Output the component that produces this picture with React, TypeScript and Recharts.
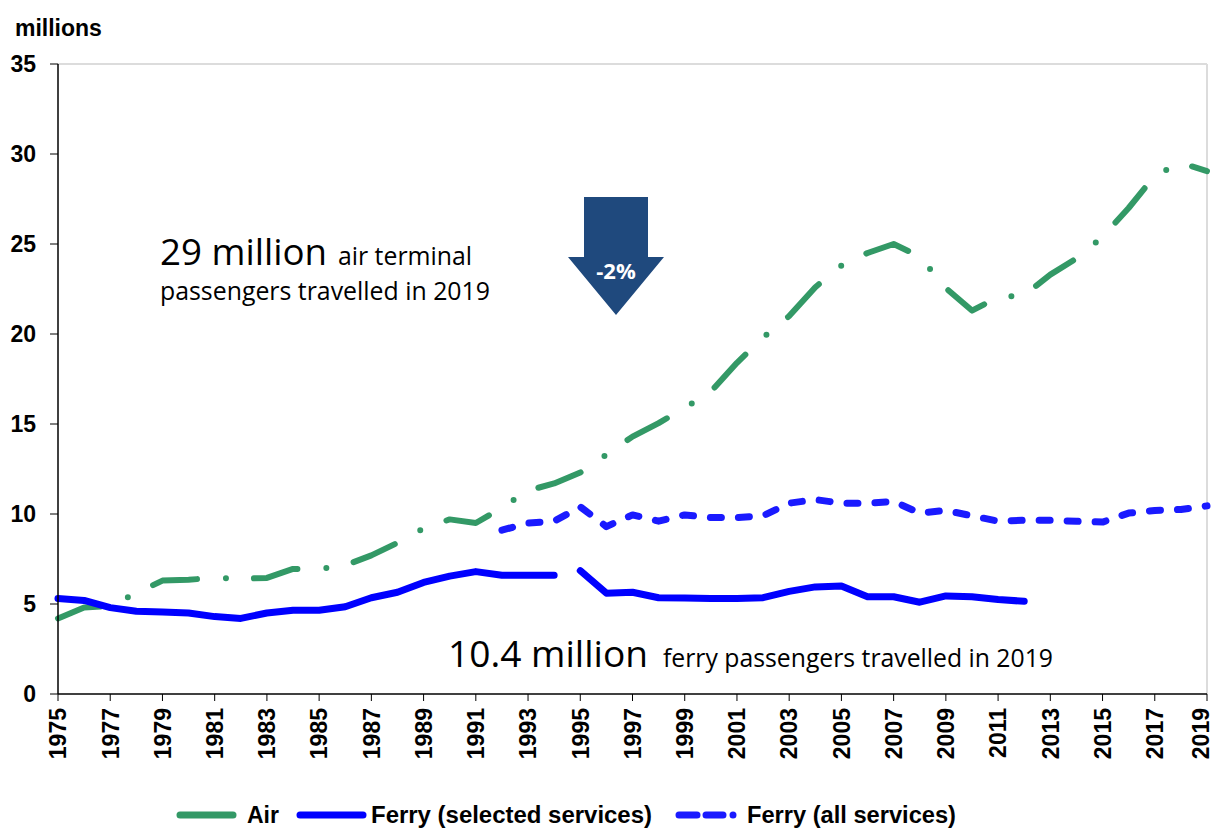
import React from 'react';
import { LineChart, Line, XAxis, YAxis, ReferenceLine } from 'recharts';

// passengers, millions
const years = Array.from({ length: 45 }, (_, i) => 1975 + i);

const air = [
  4.2, 4.8, 4.9, 5.6, 6.3, 6.35, 6.45, 6.4, 6.45, 6.95,
  6.95, 7.15, 7.7, 8.4, 9.2, 9.7, 9.5, 10.35, 11.3, 11.7,
  12.3, 13.3, 14.3, 15.05, 15.9, 16.8, 18.4, 19.8, 21.0, 22.6,
  23.8, 24.5, 25.0, 24.3, 22.55, 21.3, 22.05, 22.15, 23.3, 24.2,
  25.4, 27.0, 28.8, 29.5, 29.05,
];

// selected services, 1975-1994 and 1995-2012 (break in series)
const ferrySelectedEarly = [
  5.3, 5.2, 4.8, 4.6, 4.55, 4.5, 4.3, 4.2, 4.5, 4.65,
  4.65, 4.85, 5.35, 5.65, 6.2, 6.55, 6.8, 6.6, 6.6, 6.6,
];
const ferrySelectedLate = [
  6.85, 5.6, 5.65, 5.35, 5.33, 5.3, 5.3, 5.35, 5.7, 5.95,
  6.0, 5.4, 5.4, 5.1, 5.45, 5.4, 5.25, 5.15,
];

// all services, 1992-2019
const ferryAll = [
  9.1, 9.5, 9.6, 10.4, 9.3, 9.95, 9.6, 9.95, 9.8, 9.8,
  9.9, 10.6, 10.8, 10.6, 10.6, 10.7, 10.05, 10.2, 9.9, 9.6,
  9.65, 9.65, 9.6, 9.55, 10.05, 10.2, 10.25, 10.45,
];

const yTicks = [0, 5, 10, 15, 20, 25, 30, 35];
const xTicks = years.filter((y) => y % 2 === 1);

const pick = (arr: number[], start: number, year: number) => {
  const i = year - start;
  return i >= 0 && i < arr.length ? arr[i] : null;
};

const data = years.map((year) => ({
  year,
  air: pick(air, 1975, year),
  selEarly: pick(ferrySelectedEarly, 1975, year),
  selLate: pick(ferrySelectedLate, 1995, year),
  all: pick(ferryAll, 1992, year),
}));

const GREEN = '#339966';
const BLUE = '#0000FF';
const BLUE_DASH = '#1a1aff';
const ARIAL = '"Liberation Sans", Arial, sans-serif';
const CALIBRI = '"Open Sans", "Noto Sans", sans-serif';

const YearTick = (props: any) => {
  const { x, y, payload } = props;
  // last label sits on the right edge, nudge it in a little
  const nx = payload.value === 2019 ? x - 6 : x;
  return (
    <text
      transform={`translate(${nx},${y + 7}) rotate(-90)`}
      textAnchor="end"
      dy="0.36em"
      fontFamily={ARIAL}
      fontWeight="bold"
      fontSize={23}
      fill="#000"
    >
      {payload.value}
    </text>
  );
};

export default function App() {
  return (
    <div style={{ position: 'absolute', left: 0, top: 0, width: 1215, height: 828, background: '#fff' }}>
      <LineChart
        width={1215}
        height={828}
        data={data}
        margin={{ top: 64, right: 8, left: 8, bottom: 54 }}
      >
        <ReferenceLine y={35} stroke="#dcdcdc" strokeWidth={2} />
        <ReferenceLine x={2019} stroke="#dcdcdc" strokeWidth={2} />
        <XAxis
          type="number"
          dataKey="year"
          domain={[1975, 2019]}
          ticks={xTicks}
          interval={0}
          height={80}
          tickSize={7}
          tickMargin={0}
          axisLine={{ stroke: '#000', strokeWidth: 1.5 }}
          tickLine={{ stroke: '#000' }}
          tick={<YearTick />}
        />
        <YAxis
          domain={[0, 35]}
          ticks={yTicks}
          width={50}
          tickSize={8}
          tickMargin={14}
          axisLine={{ stroke: '#000', strokeWidth: 1.5 }}
          tickLine={{ stroke: '#000' }}
          tick={{ fontFamily: ARIAL, fontWeight: 'bold', fontSize: 23, fill: '#000' }}
        />
        <Line
          dataKey="air"
          stroke={GREEN}
          strokeWidth={6}
          strokeDasharray="45 29 0 28"
          strokeLinecap="round"
          strokeLinejoin="round"
          dot={false}
          activeDot={false}
          isAnimationActive={false}
        />
        <Line
          dataKey="selEarly"
          stroke={BLUE}
          strokeWidth={7}
          strokeLinecap="round"
          strokeLinejoin="round"
          dot={false}
          activeDot={false}
          isAnimationActive={false}
        />
        <Line
          dataKey="selLate"
          stroke={BLUE}
          strokeWidth={7}
          strokeLinecap="round"
          strokeLinejoin="round"
          dot={false}
          activeDot={false}
          isAnimationActive={false}
        />
        <Line
          dataKey="all"
          stroke={BLUE_DASH}
          strokeWidth={7}
          strokeDasharray="11 17"
          strokeLinecap="round"
          strokeLinejoin="round"
          dot={false}
          activeDot={false}
          isAnimationActive={false}
        />
      </LineChart>

      <svg
        width={1215}
        height={828}
        style={{ position: 'absolute', left: 0, top: 0, pointerEvents: 'none' }}
      >
        <text x={15} y={36} fontFamily={ARIAL} fontWeight="bold" fontSize={23} fill="#000">
          millions
        </text>

        {/* annotations */}
        <text x={160} y={265} fontFamily={CALIBRI} fontSize={36} fill="#000" textLength={167} lengthAdjust="spacingAndGlyphs">
          29 million
        </text>
        <text x={338} y={265} fontFamily={CALIBRI} fontSize={25} fill="#000" textLength={134} lengthAdjust="spacingAndGlyphs">
          air terminal
        </text>
        <text x={160} y={300} fontFamily={CALIBRI} fontSize={25} fill="#000" textLength={330} lengthAdjust="spacingAndGlyphs">
          passengers travelled in 2019
        </text>
        <text x={448} y={667} fontFamily={CALIBRI} fontSize={37} fill="#000" textLength={200} lengthAdjust="spacingAndGlyphs">
          10.4 million
        </text>
        <text x={663} y={667} fontFamily={CALIBRI} fontSize={25} fill="#000" textLength={390} lengthAdjust="spacingAndGlyphs">
          ferry passengers travelled in 2019
        </text>

        {/* -2% arrow */}
        <polygon
          points="584,197 648,197 648,257 664,257 616,315 568,257 584,257"
          fill="#1F497D"
        />
        <text x={616} y={279} textAnchor="middle" fontFamily={CALIBRI} fontWeight="bold" fontSize={22} fill="#fff">
          -2%
        </text>

        {/* legend */}
        <line x1={180} y1={815} x2={233} y2={815} stroke={GREEN} strokeWidth={7} strokeLinecap="round" />
        <text x={247} y={823} fontFamily={ARIAL} fontWeight="bold" fontSize={23} fill="#000">Air</text>
        <line x1={300} y1={815} x2={363} y2={815} stroke={BLUE} strokeWidth={7} strokeLinecap="round" />
        <text x={371} y={823} fontFamily={ARIAL} fontWeight="bold" fontSize={23} fill="#000" textLength={281} lengthAdjust="spacingAndGlyphs">
          Ferry (selected services)
        </text>
        <line x1={679} y1={815} x2={741} y2={815} stroke={BLUE_DASH} strokeWidth={7} strokeLinecap="round" strokeDasharray="18 9 17 10 0" />
        <text x={747} y={823} fontFamily={ARIAL} fontWeight="bold" fontSize={23} fill="#000" textLength={209} lengthAdjust="spacingAndGlyphs">
          Ferry (all services)
        </text>
      </svg>
    </div>
  );
}
